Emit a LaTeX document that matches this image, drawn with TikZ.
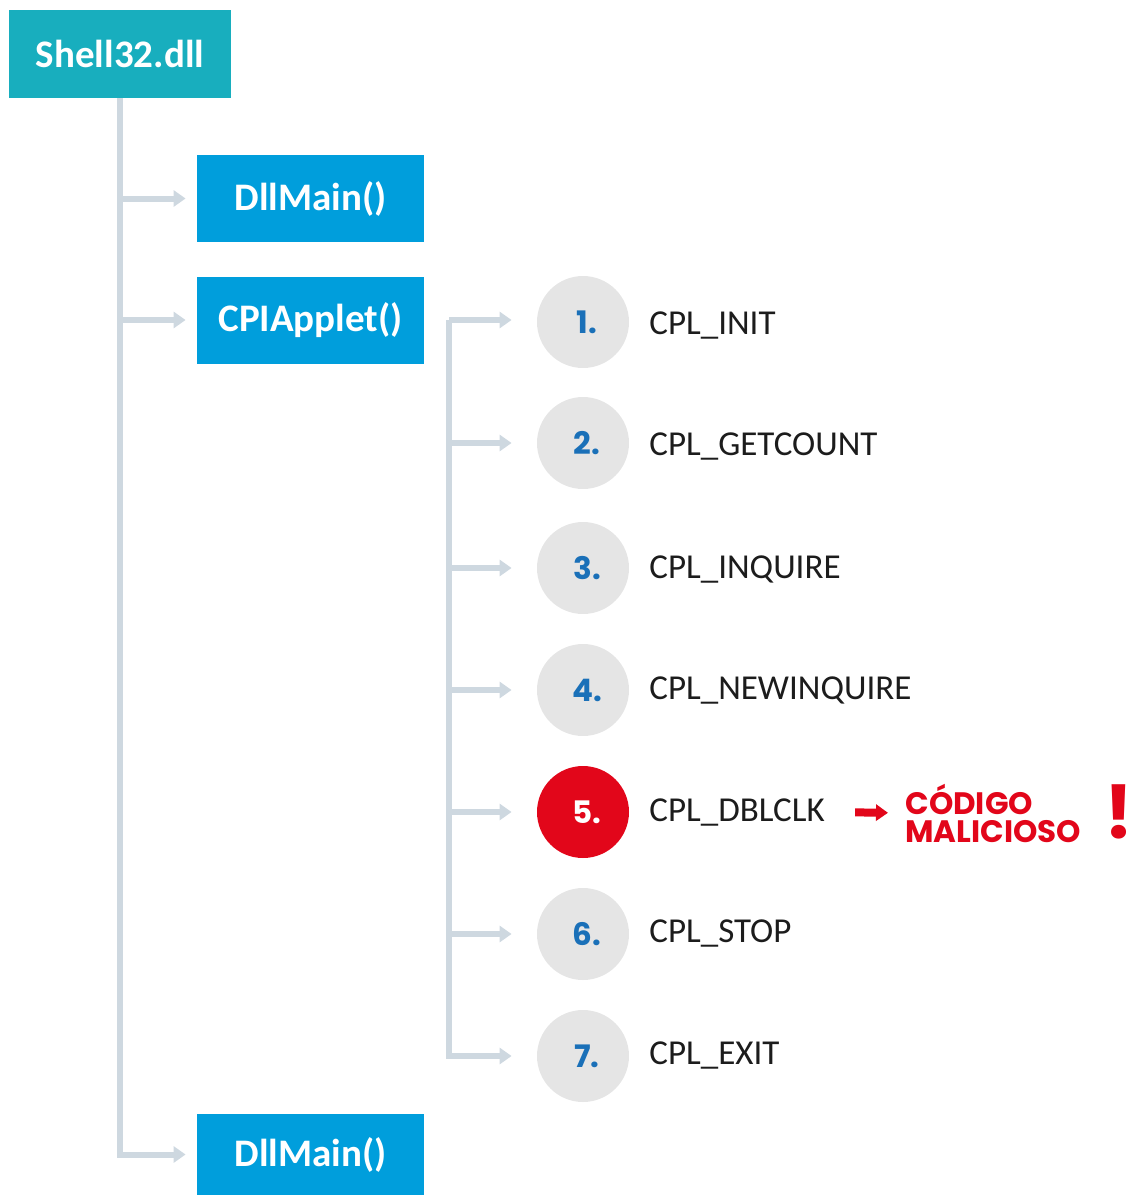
\documentclass[tikz,border=0pt]{standalone}
\usepackage{fontspec}
\setmainfont{Carlito}
\newfontfamily\pop{Poppins}
\usetikzlibrary{arrows.meta}
\definecolor{teal1}{RGB}{24,174,190}
\definecolor{blue1}{RGB}{0,158,220}
\definecolor{conncol}{RGB}{206,216,224}
\definecolor{greyc}{RGB}{229,229,229}
\definecolor{red1}{RGB}{226,6,26}
\definecolor{numblue}{RGB}{26,112,184}
\definecolor{txt}{RGB}{28,28,28}
\begin{document}
\begin{tikzpicture}[x=0.5pt,y=-0.5pt,
  box/.style={rectangle, fill=blue1, text=white, font=\bfseries\fontsize{19.5}{22}\selectfont,
    minimum width=113.5pt, minimum height=43.5pt, inner sep=0pt},
  conn/.style={draw=conncol, line width=3pt, line join=miter,
    -{Triangle[width=8pt,length=6pt]}},
  bubble/.style={circle, fill=greyc, minimum size=46pt, inner sep=0pt,
    text=numblue, font=\pop\bfseries\fontsize{15.5}{17}\selectfont},
  lab/.style={anchor=west, inner sep=0pt, text=txt, font=\fontsize{17.5}{20}\selectfont},
  redarr/.style={draw=red1, line width=4pt, -{Triangle[width=8pt,length=6pt]}}
]
\useasboundingbox (0,0) rectangle (1134,1195);

% main boxes
\node[box, fill=teal1, minimum width=111pt, minimum height=44pt] (shell) at (120,54) {Shell32.dll};
\node[box] (dm1) at (310.5,198.5) {DllMain()};
\node[box] (cpi) at (310.5,320) {CPIApplet()};
\node[box, minimum height=40.5pt] (dm2) at (310.5,1154.5) {\raisebox{-2pt}{DllMain()}};

% circles
\node[bubble] (c1) at (583,322) {\hspace*{4pt}1.};
\node[bubble] (c2) at (583,443) {\hspace*{4pt}2.};
\node[bubble] (c3) at (583,568) {\hspace*{4pt}3.};
\node[bubble] (c4) at (583,690) {\hspace*{4pt}4.};
\node[bubble, fill=red1, text=white] (c5) at (583,812) {\hspace*{4pt}5.};
\node[bubble] (c6) at (583,934) {\hspace*{4pt}6.};
\node[bubble] (c7) at (583,1056) {\hspace*{4pt}7.};

% labels
\node[lab] (l1) at (649,325) {CPL\_INIT};
\node[lab] (l2) at (649,446) {CPL\_GETCOUNT};
\node[lab] (l3) at (649,569) {CPL\_INQUIRE};
\node[lab] (l4) at (649,690) {CPL\_NEWINQUIRE};
\node[lab] (l5) at (649,812) {CPL\_DBLCLK};
\node[lab] (l6) at (649,933) {CPL\_STOP};
\node[lab] (l7) at (649,1055) {CPL\_EXIT};

% malicious code
\node[anchor=west, inner sep=0pt, align=left, text=red1,
  font=\pop\bfseries\fontsize{15.5}{14}\selectfont] (mal) at (905,813)
  {CÓDIGO\\MALICIOSO};
\node[inner sep=0pt, text=red1, font=\pop\bfseries\fontsize{37}{40}\selectfont] (excl) at (1119,812) {!};

% trunk 1
\draw[conn, shorten >=5.5pt] (shell.south) |- (dm2.west);
\draw[conn, shorten >=5.5pt] (shell.south |- dm1.west) -- (dm1.west);
\draw[conn, shorten >=5.5pt] (shell.south |- cpi.west) -- (cpi.west);

% trunk 2
\coordinate (t2) at (449,320);
\draw[conn, shorten >=12.5pt] (t2) |- (c7.west);
\draw[conn, shorten >=12.5pt] (t2) -- (t2 -| c1.west);
\foreach \n in {2,3,4,5,6}{
  \draw[conn, shorten >=12.5pt] (t2 |- c\n.west) -- (c\n.west);
}

% red arrow
\draw[redarr, shorten <=15pt, shorten >=8.5pt] (l5.east) -- (mal.west);
\end{tikzpicture}
\end{document}
